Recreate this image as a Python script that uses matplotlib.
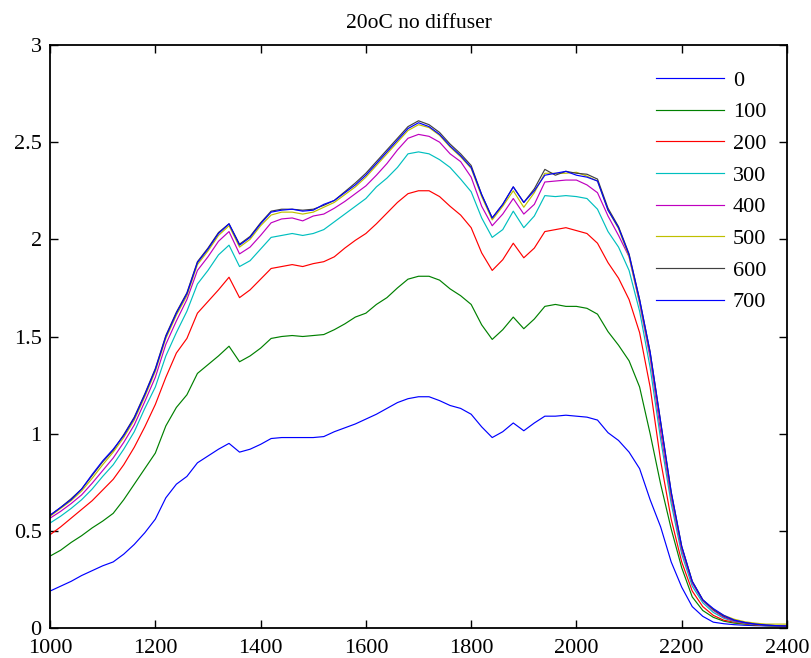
from matplotlib import pyplot as plt

plt.rcParams['font.family'] = ['Liberation Serif', 'DejaVu Serif']

# wavelength grid, nm
wl = list(range(1000, 2401, 20))

s0 = [0.19, 0.215, 0.24, 0.27, 0.295, 0.32, 0.34, 0.38, 0.43, 0.49,
      0.56, 0.67, 0.74, 0.78, 0.85, 0.885, 0.92, 0.95, 0.905, 0.92,
      0.945, 0.975, 0.98, 0.98, 0.98, 0.98, 0.985, 1.01, 1.03, 1.05,
      1.075, 1.10, 1.13, 1.16, 1.18, 1.19, 1.19, 1.17, 1.145, 1.13,
      1.10, 1.035, 0.98, 1.01, 1.055, 1.015, 1.055, 1.09, 1.09, 1.095,
      1.09, 1.085, 1.07, 1.005, 0.965, 0.905, 0.82, 0.66, 0.52, 0.34,
      0.21, 0.11, 0.06, 0.03, 0.022, 0.017, 0.014, 0.012, 0.011, 0.01, 0.01]

s100 = [0.37, 0.40, 0.44, 0.475, 0.515, 0.55, 0.59, 0.66, 0.74, 0.82,
        0.90, 1.04, 1.135, 1.20, 1.31, 1.355, 1.40, 1.45, 1.37, 1.40,
        1.44, 1.49, 1.50, 1.505, 1.50, 1.505, 1.51, 1.535, 1.565, 1.60,
        1.62, 1.665, 1.70, 1.75, 1.795, 1.81, 1.81, 1.79, 1.745, 1.71,
        1.665, 1.56, 1.485, 1.535, 1.60, 1.54, 1.59, 1.655, 1.665, 1.655,
        1.655, 1.645, 1.615, 1.525, 1.455, 1.375, 1.24, 1.00, 0.74, 0.51,
        0.31, 0.16, 0.09, 0.055, 0.035, 0.025, 0.02, 0.015, 0.012, 0.01, 0.01]

s200 = [0.48, 0.52, 0.565, 0.61, 0.655, 0.71, 0.765, 0.84, 0.93, 1.035,
        1.15, 1.29, 1.415, 1.49, 1.62, 1.68, 1.74, 1.805, 1.70, 1.74,
        1.795, 1.85, 1.86, 1.87, 1.86, 1.875, 1.885, 1.91, 1.955, 1.995,
        2.03, 2.08, 2.135, 2.19, 2.235, 2.25, 2.25, 2.22, 2.17, 2.125,
        2.06, 1.93, 1.84, 1.895, 1.98, 1.905, 1.955, 2.04, 2.05, 2.06,
        2.045, 2.03, 1.98, 1.88, 1.80, 1.69, 1.52, 1.24, 0.86, 0.56,
        0.34, 0.19, 0.11, 0.065, 0.04, 0.03, 0.022, 0.016, 0.013, 0.011, 0.01]

s300 = [0.54, 0.575, 0.615, 0.66, 0.715, 0.78, 0.84, 0.92, 1.01, 1.13,
        1.24, 1.40, 1.52, 1.63, 1.77, 1.84, 1.92, 1.97, 1.86, 1.89,
        1.95, 2.01, 2.02, 2.03, 2.02, 2.03, 2.05, 2.09, 2.13, 2.17,
        2.21, 2.27, 2.315, 2.37, 2.44, 2.45, 2.44, 2.41, 2.37, 2.31,
        2.245, 2.11, 2.01, 2.05, 2.145, 2.06, 2.12, 2.225, 2.22, 2.225,
        2.22, 2.21, 2.155, 2.04, 1.96, 1.84, 1.63, 1.34, 0.97, 0.64,
        0.38, 0.215, 0.13, 0.08, 0.05, 0.033, 0.024, 0.018, 0.014, 0.011, 0.01]

s400 = [0.565, 0.60, 0.64, 0.685, 0.745, 0.81, 0.875, 0.955, 1.045, 1.165,
        1.29, 1.46, 1.58, 1.69, 1.84, 1.91, 1.99, 2.04, 1.925, 1.96,
        2.02, 2.085, 2.105, 2.11, 2.095, 2.12, 2.13, 2.16, 2.195, 2.235,
        2.275, 2.33, 2.39, 2.46, 2.52, 2.54, 2.53, 2.50, 2.44, 2.40,
        2.32, 2.17, 2.07, 2.13, 2.21, 2.13, 2.18, 2.295, 2.30, 2.305,
        2.305, 2.28, 2.24, 2.12, 2.02, 1.91, 1.67, 1.39, 1.01, 0.67,
        0.40, 0.23, 0.14, 0.09, 0.055, 0.036, 0.026, 0.019, 0.015, 0.012, 0.01]

s500 = [0.575, 0.615, 0.655, 0.705, 0.77, 0.84, 0.905, 0.98, 1.07, 1.19,
        1.32, 1.49, 1.61, 1.71, 1.87, 1.94, 2.02, 2.07, 1.96, 2.00,
        2.07, 2.125, 2.14, 2.14, 2.13, 2.14, 2.165, 2.19, 2.23, 2.27,
        2.32, 2.38, 2.44, 2.50, 2.56, 2.59, 2.575, 2.535, 2.475, 2.425,
        2.365, 2.22, 2.10, 2.17, 2.25, 2.165, 2.24, 2.34, 2.34, 2.34,
        2.345, 2.325, 2.30, 2.15, 2.055, 1.91, 1.68, 1.41, 1.05, 0.69,
        0.415, 0.24, 0.145, 0.095, 0.065, 0.045, 0.032, 0.025, 0.02, 0.02, 0.02]

s600 = [0.58, 0.62, 0.665, 0.715, 0.785, 0.855, 0.915, 0.995, 1.085, 1.205,
        1.335, 1.505, 1.625, 1.725, 1.885, 1.955, 2.035, 2.08, 1.975, 2.015,
        2.085, 2.145, 2.155, 2.155, 2.15, 2.155, 2.175, 2.20, 2.245, 2.29,
        2.34, 2.40, 2.46, 2.52, 2.58, 2.61, 2.59, 2.55, 2.49, 2.44,
        2.38, 2.23, 2.11, 2.18, 2.27, 2.19, 2.26, 2.36, 2.33, 2.35,
        2.34, 2.335, 2.31, 2.16, 2.065, 1.925, 1.69, 1.42, 1.06, 0.70,
        0.42, 0.24, 0.145, 0.095, 0.06, 0.04, 0.028, 0.02, 0.015, 0.012, 0.01]

s700 = [0.58, 0.62, 0.66, 0.715, 0.79, 0.86, 0.92, 0.99, 1.08, 1.20,
        1.33, 1.50, 1.62, 1.72, 1.88, 1.95, 2.03, 2.08, 1.97, 2.01,
        2.08, 2.14, 2.15, 2.155, 2.145, 2.15, 2.18, 2.20, 2.24, 2.28,
        2.33, 2.39, 2.45, 2.51, 2.57, 2.60, 2.58, 2.54, 2.48, 2.43,
        2.37, 2.23, 2.11, 2.18, 2.27, 2.19, 2.25, 2.33, 2.34, 2.35,
        2.33, 2.32, 2.30, 2.15, 2.06, 1.92, 1.69, 1.42, 1.06, 0.70,
        0.42, 0.24, 0.145, 0.10, 0.065, 0.04, 0.028, 0.02, 0.015, 0.012, 0.01]

series = [s0, s100, s200, s300, s400, s500, s600, s700]
labels = ['0', '100', '200', '300', '400', '500', '600', '700']
colors = [(0, 0, 1), (0, 0.5, 0), (1, 0, 0), (0, 0.75, 0.75),
          (0.75, 0, 0.75), (0.75, 0.75, 0), (0.25, 0.25, 0.25), (0, 0, 1)]

fig = plt.figure(figsize=(8.11, 6.58), dpi=100)
ax = fig.add_axes([0.0617, 0.0456, 0.9087, 0.886])

for s, lab, c in zip(series, labels, colors):
    ax.plot(wl, s, color=c, lw=0.85, label=lab)

ax.set_xlim(1000, 2400)
ax.set_ylim(0, 3)
ax.set_xticks([1000, 1200, 1400, 1600, 1800, 2000, 2200, 2400])
ax.set_yticks([0, 0.5, 1, 1.5, 2, 2.5, 3])
ax.set_yticklabels(['0', '0.5', '1', '1.5', '2', '2.5', '3'])
ax.tick_params(direction='in', length=6, width=1, labelsize=16,
               top=True, right=True)
ax.tick_params(axis='x', pad=8)
ax.tick_params(axis='y', pad=6)
for sp in ax.spines.values():
    sp.set_linewidth(1.3)

ax.set_title('20oC no diffuser', fontsize=15.5, pad=12)
ax.legend(loc='upper left', bbox_to_anchor=(0.822, 0.957), frameon=False,
          fontsize=16, handlelength=3.06, handletextpad=0.4,
          labelspacing=0.50, borderpad=0, borderaxespad=0)

plt.savefig('out.png', dpi=100)
